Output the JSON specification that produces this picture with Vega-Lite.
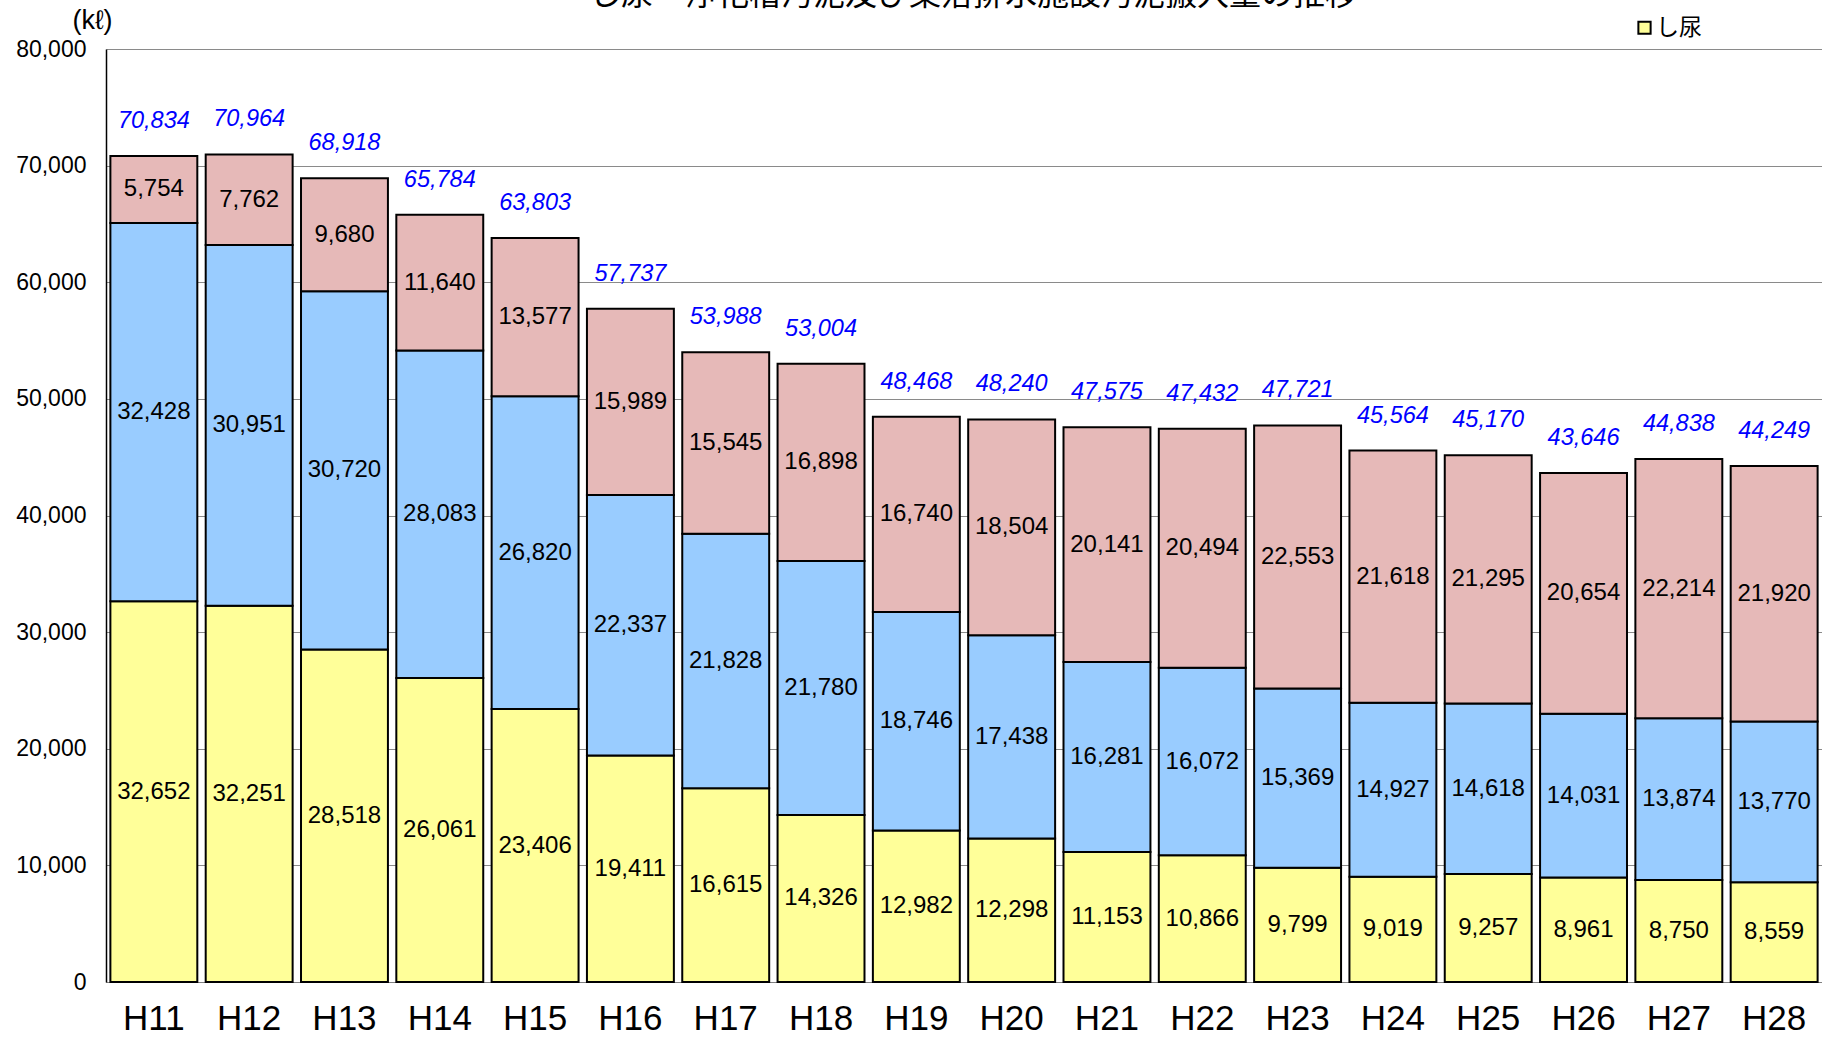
{
  "$schema": "https://vega.github.io/schema/vega-lite/v6.json",
  "autosize": {"type": "none"},
  "width": 1716,
  "height": 933,
  "padding": {"left": 106, "top": 49, "right": 0, "bottom": 58},
  "background": "white",
  "title": {
    "text": "し尿・浄化槽汚泥及び集落排水施設汚泥搬入量の推移",
    "font": "Noto Sans CJK JP",
    "fontSize": 32,
    "fontWeight": "normal",
    "color": "black",
    "anchor": "middle",
    "frame": "group",
    "baseline": "bottom",
    "offset": -38,
    "dx": 9
  },
  "data": {
    "values": [
      {"year": "H11", "category": "し尿", "order": 1, "value": 32652},
      {"year": "H11", "category": "浄化槽汚泥", "order": 2, "value": 32428},
      {"year": "H11", "category": "集落排水施設汚泥", "order": 3, "value": 5754},
      {"year": "H12", "category": "し尿", "order": 1, "value": 32251},
      {"year": "H12", "category": "浄化槽汚泥", "order": 2, "value": 30951},
      {"year": "H12", "category": "集落排水施設汚泥", "order": 3, "value": 7762},
      {"year": "H13", "category": "し尿", "order": 1, "value": 28518},
      {"year": "H13", "category": "浄化槽汚泥", "order": 2, "value": 30720},
      {"year": "H13", "category": "集落排水施設汚泥", "order": 3, "value": 9680},
      {"year": "H14", "category": "し尿", "order": 1, "value": 26061},
      {"year": "H14", "category": "浄化槽汚泥", "order": 2, "value": 28083},
      {"year": "H14", "category": "集落排水施設汚泥", "order": 3, "value": 11640},
      {"year": "H15", "category": "し尿", "order": 1, "value": 23406},
      {"year": "H15", "category": "浄化槽汚泥", "order": 2, "value": 26820},
      {"year": "H15", "category": "集落排水施設汚泥", "order": 3, "value": 13577},
      {"year": "H16", "category": "し尿", "order": 1, "value": 19411},
      {"year": "H16", "category": "浄化槽汚泥", "order": 2, "value": 22337},
      {"year": "H16", "category": "集落排水施設汚泥", "order": 3, "value": 15989},
      {"year": "H17", "category": "し尿", "order": 1, "value": 16615},
      {"year": "H17", "category": "浄化槽汚泥", "order": 2, "value": 21828},
      {"year": "H17", "category": "集落排水施設汚泥", "order": 3, "value": 15545},
      {"year": "H18", "category": "し尿", "order": 1, "value": 14326},
      {"year": "H18", "category": "浄化槽汚泥", "order": 2, "value": 21780},
      {"year": "H18", "category": "集落排水施設汚泥", "order": 3, "value": 16898},
      {"year": "H19", "category": "し尿", "order": 1, "value": 12982},
      {"year": "H19", "category": "浄化槽汚泥", "order": 2, "value": 18746},
      {"year": "H19", "category": "集落排水施設汚泥", "order": 3, "value": 16740},
      {"year": "H20", "category": "し尿", "order": 1, "value": 12298},
      {"year": "H20", "category": "浄化槽汚泥", "order": 2, "value": 17438},
      {"year": "H20", "category": "集落排水施設汚泥", "order": 3, "value": 18504},
      {"year": "H21", "category": "し尿", "order": 1, "value": 11153},
      {"year": "H21", "category": "浄化槽汚泥", "order": 2, "value": 16281},
      {"year": "H21", "category": "集落排水施設汚泥", "order": 3, "value": 20141},
      {"year": "H22", "category": "し尿", "order": 1, "value": 10866},
      {"year": "H22", "category": "浄化槽汚泥", "order": 2, "value": 16072},
      {"year": "H22", "category": "集落排水施設汚泥", "order": 3, "value": 20494},
      {"year": "H23", "category": "し尿", "order": 1, "value": 9799},
      {"year": "H23", "category": "浄化槽汚泥", "order": 2, "value": 15369},
      {"year": "H23", "category": "集落排水施設汚泥", "order": 3, "value": 22553},
      {"year": "H24", "category": "し尿", "order": 1, "value": 9019},
      {"year": "H24", "category": "浄化槽汚泥", "order": 2, "value": 14927},
      {"year": "H24", "category": "集落排水施設汚泥", "order": 3, "value": 21618},
      {"year": "H25", "category": "し尿", "order": 1, "value": 9257},
      {"year": "H25", "category": "浄化槽汚泥", "order": 2, "value": 14618},
      {"year": "H25", "category": "集落排水施設汚泥", "order": 3, "value": 21295},
      {"year": "H26", "category": "し尿", "order": 1, "value": 8961},
      {"year": "H26", "category": "浄化槽汚泥", "order": 2, "value": 14031},
      {"year": "H26", "category": "集落排水施設汚泥", "order": 3, "value": 20654},
      {"year": "H27", "category": "し尿", "order": 1, "value": 8750},
      {"year": "H27", "category": "浄化槽汚泥", "order": 2, "value": 13874},
      {"year": "H27", "category": "集落排水施設汚泥", "order": 3, "value": 22214},
      {"year": "H28", "category": "し尿", "order": 1, "value": 8559},
      {"year": "H28", "category": "浄化槽汚泥", "order": 2, "value": 13770},
      {"year": "H28", "category": "集落排水施設汚泥", "order": 3, "value": 21920}
    ]
  },
  "transform": [
    {"stack": "value", "groupby": ["year"], "sort": [{"field": "order", "order": "ascending"}], "as": ["v0", "v1"]},
    {"calculate": "(datum.v0 + datum.v1) / 2", "as": "mid"}
  ],
  "encoding": {
    "x": {
      "field": "year",
      "type": "nominal",
      "sort": null,
      "scale": {"paddingInner": 0.088, "paddingOuter": 0.046},
      "axis": {
        "title": null,
        "labelAngle": 0,
        "labelFont": "Liberation Sans",
        "labelFontSize": 35,
        "labelColor": "black",
        "labelPadding": 19,
        "ticks": false,
        "domain": true,
        "domainColor": "#808080",
        "domainWidth": 1
      }
    }
  },
  "layer": [
    {
      "mark": {"type": "bar", "stroke": "black", "strokeWidth": 2},
      "encoding": {
        "y": {
          "field": "v0",
          "type": "quantitative",
          "scale": {"domain": [0, 80000], "nice": false},
          "axis": {
            "title": "(kℓ)",
            "values": [0, 10000, 20000, 30000, 40000, 50000, 60000, 70000, 80000],
            "format": ",.0f"
          }
        },
        "y2": {"field": "v1"},
        "color": {
          "field": "category",
          "type": "nominal",
          "scale": {
            "domain": ["し尿", "浄化槽汚泥", "集落排水施設汚泥"],
            "range": ["#FFFF99", "#99CCFF", "#E6B9B8"]
          },
          "legend": {
            "title": null,
            "orient": "none",
            "legendX": 1527,
            "legendY": -33,
            "direction": "horizontal",
            "columns": 3,
            "symbolType": "square",
            "symbolSize": 150,
            "symbolStrokeColor": "black",
            "symbolStrokeWidth": 2,
            "symbolOpacity": 1,
            "labelFont": "Noto Sans CJK JP",
            "labelFontSize": 23,
            "labelColor": "black",
            "labelOffset": 0,
            "columnPadding": 160,
            "padding": 0
          }
        }
      }
    },
    {
      "mark": {"type": "text", "font": "Liberation Sans", "fontSize": 24, "color": "black", "baseline": "middle", "align": "center"},
      "encoding": {
        "y": {
          "field": "mid",
          "type": "quantitative",
          "axis": {
            "title": "(kℓ)",
            "values": [0, 10000, 20000, 30000, 40000, 50000, 60000, 70000, 80000],
            "format": ",.0f"
          }
        },
        "text": {"field": "value", "type": "quantitative", "format": ","}
      }
    },
    {
      "mark": {"type": "text", "font": "Liberation Sans", "fontSize": 23.5, "fontStyle": "italic", "color": "#0000FF", "baseline": "middle", "align": "center", "dy": -35},
      "encoding": {
        "y": {
          "aggregate": "sum",
          "field": "value",
          "type": "quantitative",
          "axis": {
            "title": "(kℓ)",
            "values": [0, 10000, 20000, 30000, 40000, 50000, 60000, 70000, 80000],
            "format": ",.0f"
          }
        },
        "text": {"aggregate": "sum", "field": "value", "type": "quantitative", "format": ","}
      }
    }
  ],
  "config": {
    "view": {"stroke": null},
    "font": "Liberation Sans",
    "axisY": {
      "titleAngle": 0,
      "titleX": -14,
      "titleY": -29,
      "titleAlign": "center",
      "titleBaseline": "middle",
      "titleFont": "Liberation Sans",
      "titleFontSize": 27,
      "titleFontWeight": "normal",
      "titleColor": "black",
      "labelFont": "Liberation Sans",
      "labelFontSize": 23,
      "labelColor": "black",
      "labelPadding": 20,
      "ticks": false,
      "domain": true,
      "domainColor": "black",
      "domainWidth": 1.5,
      "grid": true,
      "gridColor": "#8a8a8a",
      "gridWidth": 1
    }
  }
}
